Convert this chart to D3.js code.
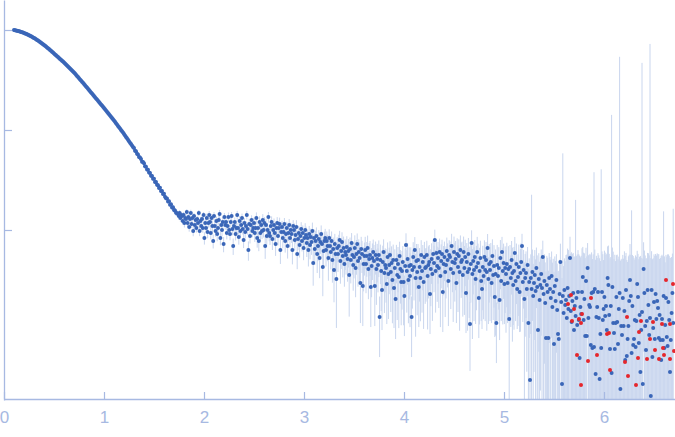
<!DOCTYPE html>
<html><head><meta charset="utf-8">
<script src="https://cdn.jsdelivr.net/npm/d3@7"></script>
<style>body{margin:0;background:#fff}svg{display:block}</style>
</head><body>
<svg id="c" width="675" height="437"></svg>
<script>
// q grid of the smooth low-q part
const qStartLow = 0.10, qStepLow = 0.01;
// log10 intensity, low-q part
const logILow = [
0.000,-0.002,-0.004,-0.007,-0.010,-0.012,-0.016,-0.019,-0.022,-0.026,
-0.030,-0.034,-0.038,-0.043,-0.048,-0.052,-0.058,-0.063,-0.068,-0.074,
-0.080,-0.086,-0.092,-0.099,-0.106,-0.112,-0.120,-0.127,-0.134,-0.142,
-0.150,-0.158,-0.166,-0.174,-0.183,-0.191,-0.200,-0.208,-0.217,-0.226,
-0.235,-0.244,-0.253,-0.262,-0.271,-0.280,-0.289,-0.298,-0.307,-0.316,
-0.325,-0.335,-0.345,-0.355,-0.365,-0.375,-0.385,-0.395,-0.405,-0.415,
-0.425,-0.436,-0.448,-0.459,-0.471,-0.482,-0.494,-0.505,-0.517,-0.528,
-0.540,-0.552,-0.564,-0.576,-0.588,-0.600,-0.612,-0.624,-0.636,-0.648,
-0.660,-0.672,-0.684,-0.696,-0.708,-0.720,-0.732,-0.744,-0.756,-0.768,
-0.780,-0.792,-0.805,-0.817,-0.830,-0.842,-0.855,-0.867,-0.880,-0.892,
-0.905,-0.918,-0.932,-0.945,-0.959,-0.972,-0.986,-0.999,-1.013,-1.026,
-1.040,-1.054,-1.069,-1.083,-1.098,-1.112,-1.127,-1.141,-1.156,-1.170,
-1.180,-1.207,-1.212,-1.238,-1.244,-1.270,-1.275,-1.289,-1.318,-1.320,
-1.333,-1.362,-1.368,-1.395,-1.398,-1.425,-1.429,-1.458,-1.460,-1.487,
-1.488,-1.519,-1.521,-1.548,-1.552,-1.580,-1.578,-1.611,-1.609,-1.640,
-1.638,-1.668,-1.682,-1.686,-1.716,-1.713,-1.748,-1.742,-1.775,-1.772,
-1.800,-1.806,-1.828,-1.832];
// log10 of the uncertainty, low-q part
const logErrLow = [
-2.40,-2.40,-2.41,-2.41,-2.41,-2.42,-2.42,-2.42,-2.43,-2.43,
-2.43,-2.44,-2.44,-2.45,-2.45,-2.45,-2.46,-2.46,-2.47,-2.47,
-2.48,-2.48,-2.49,-2.50,-2.50,-2.51,-2.52,-2.52,-2.53,-2.54,
-2.55,-2.55,-2.56,-2.57,-2.58,-2.59,-2.60,-2.60,-2.61,-2.62,
-2.63,-2.64,-2.65,-2.66,-2.66,-2.67,-2.68,-2.69,-2.70,-2.71,
-2.72,-2.73,-2.74,-2.75,-2.76,-2.77,-2.78,-2.79,-2.80,-2.81,
-2.82,-2.83,-2.84,-2.85,-2.86,-2.87,-2.88,-2.89,-2.90,-2.91,
-2.92,-2.93,-2.94,-2.95,-2.96,-2.97,-2.98,-2.99,-3.00,-3.01,
-3.02,-3.03,-3.04,-3.05,-3.05,-3.06,-3.07,-3.08,-3.09,-3.10,
-3.11,-3.11,-3.12,-3.12,-3.13,-3.13,-3.14,-3.14,-3.15,-3.15,
-3.15,-3.16,-3.16,-3.16,-3.17,-3.17,-3.17,-3.18,-3.18,-3.18,
-3.18,-3.19,-3.19,-3.19,-3.19,-3.19,-3.20,-3.20,-3.20,-3.20,
-3.20,-3.19,-3.19,-3.18,-3.18,-3.17,-3.17,-3.16,-3.15,-3.15,
-3.14,-3.13,-3.13,-3.12,-3.11,-3.11,-3.10,-3.09,-3.09,-3.08,
-3.07,-3.07,-3.06,-3.06,-3.05,-3.05,-3.04,-3.04,-3.03,-3.03,
-3.02,-3.02,-3.02,-3.01,-3.01,-3.01,-3.00,-3.00,-3.00,-3.00,
-2.99,-2.99,-2.99,-2.98];

// q grid of the noisy high-q part
const qStartHigh = 1.74, qStepHigh = 0.008;
// log10 intensity, high-q part
const logIHigh = [
-1.84,-1.86,-1.83,-1.88,-1.85,
-1.86,-1.91,-1.85,-1.93,-1.88,
-1.89,-1.82,-1.93,-1.87,-1.97,
-1.89,-1.83,-1.94,-1.88,-2.01,
-1.86,-1.95,-1.90,-1.98,-1.89,
-1.93,-1.83,-2.01,-1.91,-1.96,
-1.89,-1.98,-1.85,-2.08,-1.93,
-1.98,-1.88,-2.02,-1.93,-1.85,
-1.92,-2.03,-1.88,-1.96,-2.11,
-1.86,-1.96,-2.01,-1.91,-2.04,
-1.98,-1.90,-1.84,-2.08,-1.95,
-2.00,-1.92,-2.14,-1.87,-1.95,
-1.92,-2.03,-1.96,-1.87,-2.00,
-2.04,-1.92,-1.86,-1.99,-2.16,
-1.96,-1.92,-2.04,-1.98,-1.85,
-1.98,-2.07,-1.91,-2.01,-1.95,
-1.88,-1.99,-2.10,-1.93,-2.02,
-1.96,-1.85,-1.99,-2.20,-1.94,
-2.06,-1.95,-1.90,-2.01,-1.98,
-1.93,-2.03,-1.98,-1.88,-2.08,
-1.98,-2.11,-1.92,-2.03,-1.95,
-2.01,-1.90,-2.00,-1.93,-2.16,
-1.95,-2.06,-2.00,-1.87,-2.03,
-2.06,-1.96,-1.92,-2.09,-2.00,
-1.95,-2.03,-2.14,-1.98,-1.93,
-2.06,-1.98,-1.94,-2.20,-2.02,
-1.97,-2.08,-2.02,-1.94,-2.11,
-2.04,-1.98,-2.16,-2.03,-1.95,
-2.08,-2.00,-2.04,-2.20,-1.96,
-2.00,-2.10,-2.05,-1.97,-2.24,
-2.09,-2.03,-2.15,-2.06,-1.99,
-2.11,-2.03,-2.18,-2.08,-2.00,
-2.05,-2.13,-2.08,-2.20,-2.04,
-2.15,-2.07,-2.12,-2.01,-2.33,
-2.08,-2.19,-2.11,-2.06,-2.24,
-2.16,-2.09,-2.28,-2.12,-2.04,
-2.14,-2.37,-2.21,-2.11,-2.08,
-2.20,-2.11,-2.16,-2.28,-2.08,
-2.16,-2.22,-2.11,-2.30,-2.19,
-2.40,-2.14,-2.24,-2.49,-2.18,
-2.24,-2.16,-2.10,-2.31,-2.21,
-2.12,-2.26,-2.18,-2.34,-2.22,
-2.25,-2.17,-2.29,-2.21,-2.45,
-2.19,-2.30,-2.13,-2.25,-2.35,
-2.27,-2.18,-2.38,-2.24,-2.14,
-2.31,-2.22,-2.28,-2.53,-2.19,
-2.24,-2.56,-2.34,-2.26,-2.20,
-2.34,-2.26,-2.18,-2.39,-2.29,
-2.25,-2.57,-2.36,-2.28,-2.22,
-2.31,-2.56,-2.25,-2.39,-2.29,
-2.35,-2.25,-2.87,-2.30,-2.41,
-2.60,-2.32,-2.22,-2.43,-2.35,
-2.38,-2.54,-2.27,-2.44,-2.35,
-2.25,-2.42,-2.33,-2.50,-2.30,
-2.58,-2.38,-2.69,-2.30,-2.45,
-2.34,-2.47,-2.26,-2.39,-2.52,
-2.41,-2.32,-2.52,-2.66,-2.36,
-2.15,-2.41,-2.29,-2.50,-2.36,
-2.46,-2.35,-2.87,-2.40,-2.27,
-2.37,-2.20,-2.48,-2.31,-2.42,
-2.30,-2.57,-2.37,-2.48,-2.25,
-2.41,-2.32,-2.52,-2.27,-2.38,
-2.37,-2.25,-2.46,-2.35,-2.32,
-2.64,-2.39,-2.29,-2.44,-2.24,
-2.33,-2.10,-2.41,-2.23,-2.36,
-2.28,-2.38,-2.22,-2.46,-2.31,
-2.24,-2.62,-2.34,-2.27,-2.42,
-2.35,-2.21,-2.30,-2.51,-2.25,
-2.27,-2.39,-2.16,-2.32,-2.43,
-2.22,-2.33,-2.29,-2.53,-2.24,
-2.37,-2.26,-2.42,-2.20,-2.32,
-2.30,-2.45,-2.22,-2.38,-2.27,
-2.63,-2.32,-2.42,-2.24,-2.39,
-2.94,-2.34,-2.13,-2.44,-2.31,
-2.40,-2.27,-2.49,-2.37,-2.22,
-2.33,-2.68,-2.41,-2.28,-2.51,
-2.59,-2.37,-2.46,-2.27,-2.40,
-2.30,-2.42,-2.18,-2.49,-2.34,
-2.40,-2.32,-2.53,-2.26,-2.45,
-2.36,-2.67,-2.44,-2.93,-2.35,
-2.46,-2.38,-2.70,-2.28,-2.51,
-2.22,-2.41,-2.33,-2.54,-2.38,
-2.44,-2.34,-2.53,-2.39,-2.89,
-2.37,-2.48,-2.30,-2.43,-2.55,
-2.41,-2.23,-2.51,-2.34,-2.59,
-2.47,-2.37,-2.62,-2.43,-2.32,
-2.16,-2.52,-2.40,-2.69,-2.48,
-2.43,-2.59,-2.35,-2.93,-2.52,
-3.50,-2.48,-2.59,-2.42,-2.66,
-2.53,-2.45,-2.61,-2.38,-2.57,
-3.00,-2.49,-2.70,-2.55,-2.44,
-2.58,-2.27,-2.64,-2.51,-2.73,
-3.08,-2.55,-2.62,-3.08,-2.48,
-2.59,-2.68,-2.46,-2.77,-2.62,
-3.14,-2.56,-2.71,-2.50,-2.80,
-3.04,-3.09,-2.64,-2.32,-2.72,
-3.54,-2.66,-2.83,-2.60,-2.75,
-2.70,-2.88,-2.58,-2.79,-2.66,
-2.28,-2.81,-2.92,-2.71,-2.63,
-3.00,-2.76,-2.86,-2.68,-2.95,
-2.62,-2.90,-3.28,-2.77,-2.84,
-2.62,-2.47,-2.90,-2.69,-3.06,
-2.51,-3.06,-2.38,-2.88,-2.75,
-2.77,-3.15,-2.63,-3.18,-2.62,
-3.17,-2.59,-3.44,-2.87,-2.77,
-2.62,-2.88,-3.49,-3.04,-3.18,
-2.62,-2.90,-2.79,-2.67,-2.86,
-2.76,-3.00,-2.48,-2.55,-2.85,
-3.19,-2.76,-3.43,-2.57,-2.93,
-3.03,-3.19,-2.93,-2.67,-2.92,
-3.14,-2.79,-2.63,-3.59,-2.96,
-3.05,-2.68,-2.96,-2.81,-3.30,
-2.60,-3.26,-3.09,-2.96,-2.71,
-2.50,-2.66,-3.23,-2.76,-3.15,
-3.09,-2.90,-3.17,-2.91,-2.54,
-2.67,-3.13,-2.85,-3.42,-3.00,
-2.82,-3.54,-2.39,-2.63,-2.96,
-3.20,-2.91,-2.60,-2.75,-3.05,
-2.88,-3.66,-2.60,-3.27,-2.98,
-2.72,-3.09,-2.64,-2.89,-2.71,
-2.78,-3.08,-2.85,-3.10,-3.30,
-2.89,-3.10,-2.66,-3.18,-2.95,
-2.68,-3.07,-3.16,-2.72,-2.90,
-3.42,-3.10,-2.83,-2.63,-2.93];
// log10 of the uncertainty, high-q part
const logErrHigh = [
-3.00,-2.97,-2.99,-2.95,-2.98,
-2.96,-3.01,-2.98,-2.94,-2.99,
-2.97,-3.00,-2.95,-2.99,-2.96,
-2.98,-2.94,-3.00,-2.97,-2.95,
-2.99,-2.96,-2.93,-2.98,-3.00,
-2.95,-2.98,-2.96,-2.92,-2.97,
-2.94,-2.97,-2.99,-2.93,-2.96,
-2.90,-2.86,-2.89,-2.92,-2.87,
-2.85,-2.90,-2.88,-2.84,-2.91,
-2.89,-2.86,-2.92,-2.87,-2.85,
-2.88,-2.91,-2.85,-2.89,-2.86,
-2.87,-2.84,-2.90,-2.88,-2.92,
-2.86,-2.89,-2.87,-2.83,-2.90,
-2.91,-2.85,-2.88,-2.86,-2.89,
-2.84,-2.88,-2.90,-2.87,-2.85,
-2.89,-2.86,-2.83,-2.90,-2.88,
-2.85,-2.91,-2.87,-2.84,-2.89,
-2.88,-2.85,-2.90,-2.86,-2.83,
-2.86,-2.89,-2.84,-2.88,-2.87,
-2.80,-2.76,-2.79,-2.74,-2.78,
-2.75,-2.79,-2.77,-2.81,-2.76,
-2.78,-2.74,-2.80,-2.77,-2.75,
-2.76,-2.81,-2.75,-2.78,-2.79,
-2.79,-2.75,-2.78,-2.74,-2.80,
-2.74,-2.78,-2.76,-2.80,-2.77,
-2.77,-2.80,-2.74,-2.76,-2.79,
-2.78,-2.75,-2.79,-2.77,-2.74,
-2.75,-2.79,-2.76,-2.80,-2.78,
-2.79,-2.74,-2.77,-2.75,-2.80,
-2.76,-2.78,-2.80,-2.74,-2.77,
-2.74,-2.77,-2.75,-2.79,-2.76,
-2.78,-2.75,-2.79,-2.73,-2.77,
-2.72,-2.69,-2.74,-2.70,-2.73,
-2.70,-2.74,-2.71,-2.68,-2.72,
-2.73,-2.70,-2.68,-2.72,-2.69,
-2.69,-2.73,-2.71,-2.74,-2.70,
-2.72,-2.68,-2.70,-2.73,-2.71,
-2.70,-2.72,-2.69,-2.67,-2.73,
-2.74,-2.70,-2.72,-2.69,-2.71,
-2.68,-2.72,-2.70,-2.66,-2.73,
-2.71,-2.69,-2.73,-2.70,-2.68,
-2.72,-2.67,-2.70,-2.73,-2.69,
-2.69,-2.72,-2.68,-2.71,-2.66,
-2.71,-2.68,-2.72,-2.69,-2.70,
-2.68,-2.65,-2.69,-2.66,-2.70,
-2.66,-2.69,-2.64,-2.75,-2.68,
-2.69,-2.78,-2.67,-2.70,-2.65,
-2.65,-2.68,-2.66,-2.69,-2.64,
-2.67,-2.79,-2.65,-2.68,-2.70,
-2.66,-2.78,-2.69,-2.64,-2.67,
-2.68,-2.65,-3.09,-2.67,-2.63,
-2.82,-2.66,-2.69,-2.65,-2.68,
-2.64,-2.76,-2.67,-2.63,-2.66,
-2.68,-2.64,-2.66,-2.70,-2.67,
-2.80,-2.65,-2.91,-2.68,-2.64,
-2.66,-2.63,-2.67,-2.65,-2.72,
-2.64,-2.67,-2.72,-2.88,-2.66,
-2.66,-2.62,-2.64,-2.70,-2.63,
-2.62,-2.65,-3.09,-2.63,-2.66,
-2.64,-2.66,-2.61,-2.63,-2.62,
-2.65,-2.79,-2.63,-2.68,-2.64,
-2.62,-2.64,-2.70,-2.65,-2.63,
-2.63,-2.66,-2.61,-2.62,-2.64,
-2.86,-2.63,-2.65,-2.62,-2.66,
-2.64,-2.67,-2.62,-2.65,-2.61,
-2.63,-2.60,-2.66,-2.62,-2.64,
-2.65,-2.84,-2.63,-2.64,-2.61,
-2.62,-2.65,-2.63,-2.70,-2.64,
-2.64,-2.61,-2.65,-2.62,-2.60,
-2.59,-2.56,-2.58,-2.75,-2.60,
-2.56,-2.59,-2.55,-2.60,-2.57,
-2.58,-2.66,-2.59,-2.56,-2.58,
-2.85,-2.58,-2.55,-2.59,-2.56,
-3.12,-2.57,-2.60,-2.55,-2.58,
-2.56,-2.59,-2.68,-2.57,-2.60,
-2.58,-2.90,-2.56,-2.59,-2.73,
-2.81,-2.57,-2.66,-2.60,-2.56,
-2.59,-2.55,-2.60,-2.68,-2.57,
-2.56,-2.58,-2.75,-2.59,-2.64,
-2.57,-2.89,-2.56,-3.15,-2.58,
-2.65,-2.59,-2.92,-2.57,-2.73,
-2.60,-2.56,-2.58,-2.76,-2.57,
-2.57,-2.54,-2.75,-2.55,-2.50,
-2.55,-2.65,-2.56,-2.53,-2.77,
-2.54,-2.58,-2.73,-2.56,-2.81,
-2.64,-2.54,-2.84,-2.56,-2.58,
-2.65,-2.74,-2.63,-2.57,-2.61,
-2.62,-2.66,-2.64,-2.53,-2.66,
-2.55,-2.62,-1.70,-2.59,-2.62,
-2.59,-2.56,-2.58,-2.60,-2.54,
-2.53,-2.58,-2.55,-2.59,-2.56,
-2.56,-2.61,-2.53,-2.58,-2.54,
-2.52,-2.57,-2.54,-2.51,-2.59,
-2.55,-2.53,-2.58,-2.52,-2.56,
-2.51,-2.57,-2.53,-2.59,-2.52,
-2.53,-2.51,-2.56,-2.60,-2.54,
-2.52,-1.25,-2.54,-2.57,-2.51,
-2.44,-2.36,-2.41,-2.33,-2.46,
-2.48,-2.37,-2.32,-2.42,-2.45,
-2.36,-2.43,-1.73,-2.47,-2.34,
-2.41,-2.35,-2.30,-2.44,-2.39,
-2.38,-2.47,-2.33,-2.42,-2.36,
-2.45,-2.34,-2.49,-2.37,-2.41,
-2.39,-2.31,-2.44,-2.35,-2.48,
-1.43,-2.42,-2.33,-2.38,-2.45,
-2.46,-2.37,-2.31,-2.40,-1.40,
-2.43,-2.35,-2.47,-2.39,-2.34,
-2.41,-2.32,-2.45,-2.38,-2.36,
-2.34,-2.44,-0.85,-2.40,-2.31,
-2.38,-2.30,-2.43,-2.46,-2.35,
-2.36,-2.42,-0.27,-2.33,-2.40,
-2.37,-2.45,-2.39,-2.34,-2.30,
-2.47,-2.35,-2.40,-2.36,-2.43,
-2.39,-2.46,-1.82,-2.41,-2.32,
-2.35,-2.42,-2.31,-2.38,-2.48,
-2.44,-2.36,-2.40,-2.29,-2.37,
-0.33,-2.31,-2.46,-2.41,-2.35,
-2.34,-2.40,-2.47,-2.39,-2.33,
-0.14,-2.30,-2.44,-2.34,-2.38,
-2.42,-2.33,-2.46,-2.37,-2.41,
-2.39,-2.31,-2.43,-2.35,-2.30,
-2.36,-2.33,-1.88,-2.32,-2.44,
-2.45,-2.34,-2.30,-2.42,-2.37,
-2.31,-2.35,-2.41,-2.46,-1.82];

// points flagged as outliers (drawn red)
const outlierQ = [5.64,5.67,5.68,5.70,5.73,5.75,5.77,5.77,5.78,5.84,5.87,5.93,6.03,6.05,6.06,6.21,6.23,6.24,6.32,6.34,6.35,6.37,6.43,6.46,6.49,6.51,6.55,6.58,6.59,6.60,6.62,6.66,6.66,6.69,6.70];
const outlierLogI = [-2.74,-2.65,-2.91,-2.79,-3.25,-2.89,-2.93,-3.55,-2.84,-3.31,-2.68,-3.25,-3.04,-3.03,-3.40,-3.32,-2.87,-3.46,-3.55,-3.28,-3.02,-2.91,-3.29,-3.09,-2.92,-3.20,-3.29,-2.94,-3.18,-3.25,-2.50,-2.94,-3.29,-2.54,-3.21];

const xTicks = [0, 1, 2, 3, 4, 5, 6];
const yTicks = [0, -1, -2];

const AXIS = "#a7b9e2";
const BAR = "#c9d6ee";
const DOT = "#3a66b8";
const RED = "#e5262c";

const x = d3.scaleLinear().domain([0, 6.71]).range([4, 675]);
const y = d3.scaleLinear().domain([-3.7, 0.3]).range([400, 0]);
const yMin = y.domain()[0];

function build(q0, dq, li, le) {
  const n = Math.min(li.length, le.length);
  const out = [];
  for (let i = 0; i < n; i++) out.push({q: q0 + i * dq, li: li[i], le: le[i]});
  return out;
}
const data = build(qStartLow, qStepLow, logILow, logErrLow)
  .concat(build(qStartHigh, qStepHigh, logIHigh, logErrHigh));
const reds = outlierQ.map((q, i) => ({q, li: outlierLogI[i]}));

const hi = d => Math.log10(Math.pow(10, d.li) + Math.pow(10, d.le));
const lo = d => {
  const v = Math.pow(10, d.li) - Math.pow(10, d.le);
  return v > 0 ? Math.max(Math.log10(v), yMin - 1) : yMin - 1;
};

const svg = d3.select("#c");
svg.append("rect").attr("width", 675).attr("height", 437).attr("fill", "#fff");
svg.append("defs").append("clipPath").attr("id", "clip")
  .append("rect").attr("x", 4).attr("y", 0).attr("width", 671).attr("height", 400);

const plot = svg.append("g").attr("clip-path", "url(#clip)");
plot.append("g").selectAll("line").data(data).join("line")
  .attr("x1", d => x(d.q)).attr("x2", d => x(d.q))
  .attr("y1", d => y(hi(d))).attr("y2", d => y(lo(d)))
  .attr("stroke", BAR).attr("stroke-width", 1);
plot.append("g").selectAll("circle").data(data).join("circle")
  .attr("cx", d => x(d.q)).attr("cy", d => y(d.li)).attr("r", 2)
  .attr("fill", DOT);
plot.append("g").selectAll("circle").data(reds).join("circle")
  .attr("cx", d => x(d.q)).attr("cy", d => y(d.li)).attr("r", 2)
  .attr("fill", RED);

const gx = svg.append("g").attr("transform", "translate(0,399)")
  .call(d3.axisBottom(x).tickValues(xTicks).tickSizeInner(-7).tickSizeOuter(0).tickPadding(12).tickFormat(d3.format("d")));
const gy = svg.append("g").attr("transform", "translate(4,0)")
  .call(d3.axisLeft(y).tickValues(yTicks).tickSizeInner(-8).tickSizeOuter(0).tickFormat(""));
[gx, gy].forEach(g => {
  g.selectAll("path.domain").attr("stroke", AXIS).attr("stroke-width", 1.3);
  g.selectAll(".tick line").attr("stroke", AXIS).attr("stroke-width", 1.2);
});
gx.selectAll(".tick text").attr("fill", AXIS)
  .attr("font-family", "'Liberation Sans', Arial, sans-serif").attr("font-size", 17);
</script>
</body></html>
